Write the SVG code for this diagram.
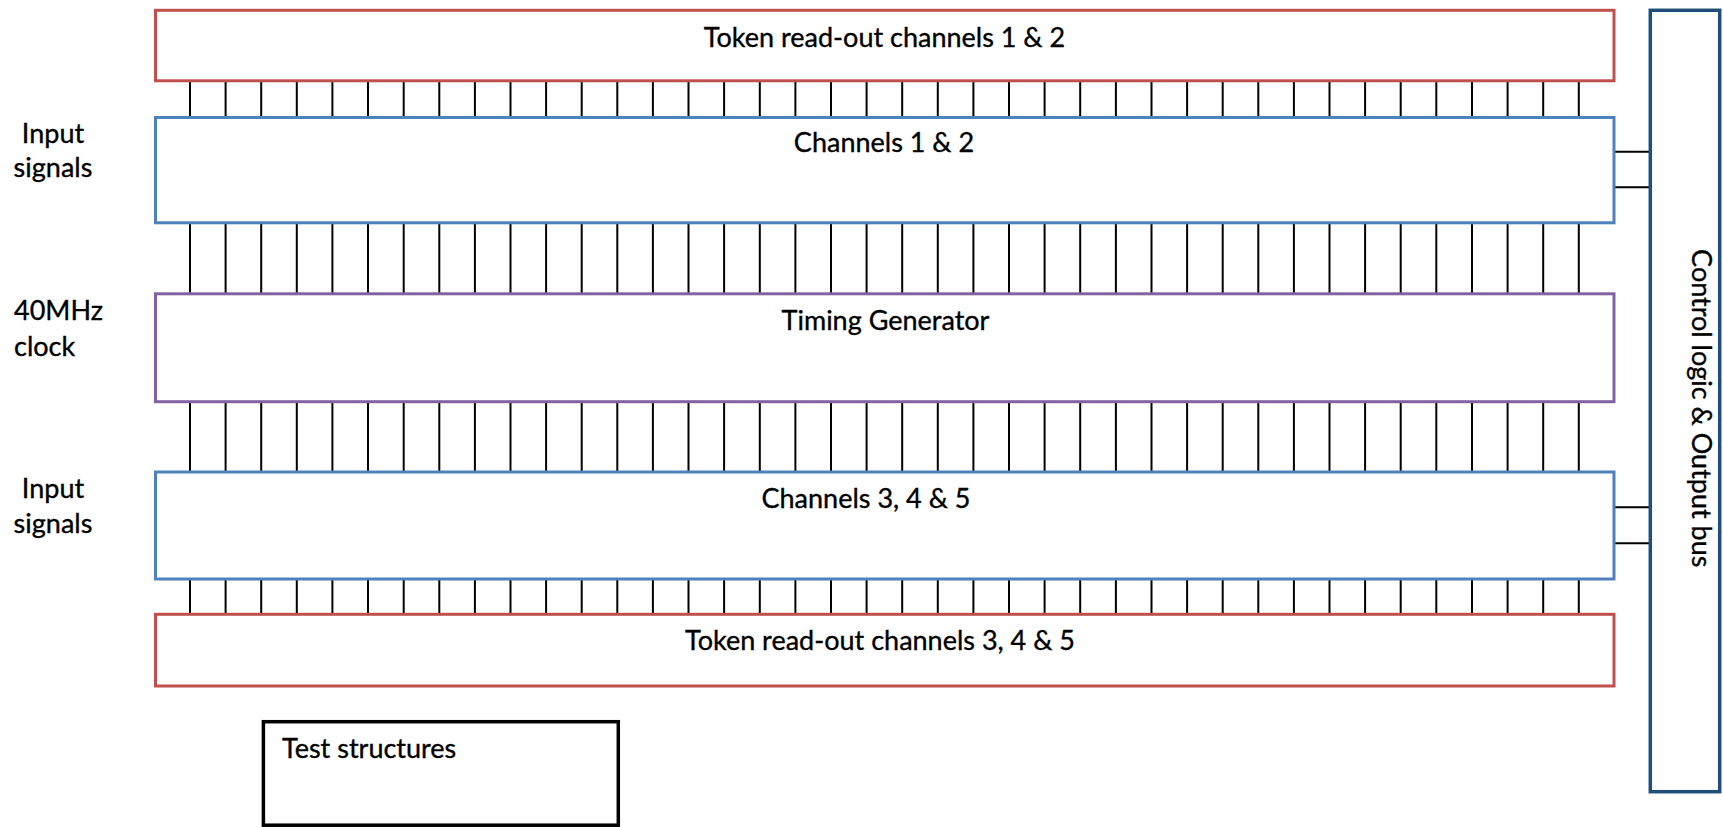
<svg xmlns="http://www.w3.org/2000/svg" width="1723" height="827" viewBox="0 0 1723 827">
  <style>
    .box { fill: #ffffff; stroke-width: 3; }
    .token { stroke: #C0504D; }
    .chan { stroke: #4F81BD; }
    .timing { stroke: #8064A2; }
    .ctrl { stroke: #1F4E79; stroke-width: 3.5; }
    .test { stroke: #000000; stroke-width: 3.5; }
    .lbl { font-family: Lato, "Liberation Sans", sans-serif; font-size: 27px; fill: #000000; stroke: #000000; stroke-width: 0.35; }
    .mid { text-anchor: middle; }
    .wire { fill: none; stroke: #000000; stroke-width: 2; }
  </style>

  <!-- connectors -->
  <g id="connectors" class="wire">
    <path d="M190 81V117 M225.6 81V117 M261.2 81V117 M296.8 81V117 M332.4 81V117 M368 81V117 M403.7 81V117 M439.3 81V117 M474.9 81V117 M510.5 81V117 M546.1 81V117 M581.7 81V117 M617.3 81V117 M652.9 81V117 M688.5 81V117 M724.1 81V117 M759.8 81V117 M795.4 81V117 M831 81V117 M866.6 81V117 M902.2 81V117 M937.8 81V117 M973.4 81V117 M1009 81V117 M1044.6 81V117 M1080.2 81V117 M1115.9 81V117 M1151.5 81V117 M1187.1 81V117 M1222.7 81V117 M1258.3 81V117 M1293.9 81V117 M1329.5 81V117 M1365.1 81V117 M1400.7 81V117 M1436.3 81V117 M1472 81V117 M1507.6 81V117 M1543.2 81V117 M1578.8 81V117"/>
    <path d="M190 223V294 M225.6 223V294 M261.2 223V294 M296.8 223V294 M332.4 223V294 M368 223V294 M403.7 223V294 M439.3 223V294 M474.9 223V294 M510.5 223V294 M546.1 223V294 M581.7 223V294 M617.3 223V294 M652.9 223V294 M688.5 223V294 M724.1 223V294 M759.8 223V294 M795.4 223V294 M831 223V294 M866.6 223V294 M902.2 223V294 M937.8 223V294 M973.4 223V294 M1009 223V294 M1044.6 223V294 M1080.2 223V294 M1115.9 223V294 M1151.5 223V294 M1187.1 223V294 M1222.7 223V294 M1258.3 223V294 M1293.9 223V294 M1329.5 223V294 M1365.1 223V294 M1400.7 223V294 M1436.3 223V294 M1472 223V294 M1507.6 223V294 M1543.2 223V294 M1578.8 223V294"/>
    <path d="M190 402V472 M225.6 402V472 M261.2 402V472 M296.8 402V472 M332.4 402V472 M368 402V472 M403.7 402V472 M439.3 402V472 M474.9 402V472 M510.5 402V472 M546.1 402V472 M581.7 402V472 M617.3 402V472 M652.9 402V472 M688.5 402V472 M724.1 402V472 M759.8 402V472 M795.4 402V472 M831 402V472 M866.6 402V472 M902.2 402V472 M937.8 402V472 M973.4 402V472 M1009 402V472 M1044.6 402V472 M1080.2 402V472 M1115.9 402V472 M1151.5 402V472 M1187.1 402V472 M1222.7 402V472 M1258.3 402V472 M1293.9 402V472 M1329.5 402V472 M1365.1 402V472 M1400.7 402V472 M1436.3 402V472 M1472 402V472 M1507.6 402V472 M1543.2 402V472 M1578.8 402V472"/>
    <path d="M190 579V614 M225.6 579V614 M261.2 579V614 M296.8 579V614 M332.4 579V614 M368 579V614 M403.7 579V614 M439.3 579V614 M474.9 579V614 M510.5 579V614 M546.1 579V614 M581.7 579V614 M617.3 579V614 M652.9 579V614 M688.5 579V614 M724.1 579V614 M759.8 579V614 M795.4 579V614 M831 579V614 M866.6 579V614 M902.2 579V614 M937.8 579V614 M973.4 579V614 M1009 579V614 M1044.6 579V614 M1080.2 579V614 M1115.9 579V614 M1151.5 579V614 M1187.1 579V614 M1222.7 579V614 M1258.3 579V614 M1293.9 579V614 M1329.5 579V614 M1365.1 579V614 M1400.7 579V614 M1436.3 579V614 M1472 579V614 M1507.6 579V614 M1543.2 579V614 M1578.8 579V614"/>
    <!-- links from the channel blocks into the control bus -->
    <path d="M1614 151.7H1650 M1614 187.3H1650 M1614 507.3H1650 M1614 543.3H1650"/>
  </g>

  <!-- side labels -->
  <g id="label-input-top" class="lbl mid">
    <text x="53" y="142.7">Input</text>
    <text x="53" y="177">signals</text>
  </g>
  <g id="label-clock" class="lbl">
    <text x="14" y="320">40MHz</text>
    <text x="14" y="356">clock</text>
  </g>
  <g id="label-input-bottom" class="lbl mid">
    <text x="53" y="498.3">Input</text>
    <text x="53" y="533.3">signals</text>
  </g>

  <g id="token-1-2">
    <rect class="box token" x="155.5" y="10.3" width="1458.5" height="70.5"/>
    <text class="lbl mid" x="884.5" y="46.7">Token read-out channels 1 &amp; 2</text>
  </g>

  <g id="channels-1-2">
    <rect class="box chan" x="155.5" y="117.5" width="1458.5" height="105.3"/>
    <text class="lbl mid" x="884" y="152.3">Channels 1 &amp; 2</text>
  </g>

  <g id="timing-generator">
    <rect class="box timing" x="155.5" y="293.8" width="1458.5" height="107.9"/>
    <text class="lbl mid" x="885.5" y="330">Timing Generator</text>
  </g>

  <g id="channels-3-4-5">
    <rect class="box chan" x="155.5" y="472" width="1458.5" height="107"/>
    <text class="lbl mid" x="866" y="508">Channels 3, 4 &amp; 5</text>
  </g>

  <g id="token-3-4-5">
    <rect class="box token" x="155.5" y="614.3" width="1458.5" height="71.7"/>
    <text class="lbl mid" x="880" y="650">Token read-out channels 3, 4 &amp; 5</text>
  </g>

  <g id="control-logic">
    <rect class="box ctrl" x="1650.3" y="10.3" width="69.4" height="781.4"/>
    <text class="lbl mid" x="1692" y="408.3" transform="rotate(90 1692 408.3)">Control logic &amp; Output bus</text>
  </g>

  <g id="test-structures">
    <rect class="box test" x="263.4" y="721.7" width="354.9" height="103.5"/>
    <text class="lbl" x="282" y="758.3">Test structures</text>
  </g>
</svg>
